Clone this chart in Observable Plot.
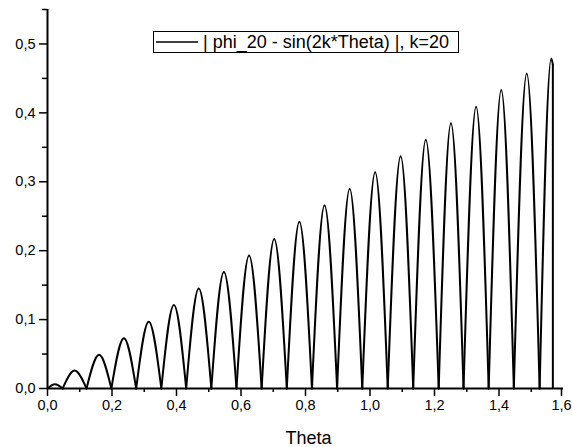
<!DOCTYPE html>
<html>
<head>
<meta charset="utf-8">
<script src="https://cdn.jsdelivr.net/npm/d3@7"></script>
<script src="https://cdn.jsdelivr.net/npm/@observablehq/plot@0.6"></script>
<style>
  html, body { margin: 0; padding: 0; background: #fff; }
  #wrap { position: relative; width: 572px; height: 447px; font-family: "Liberation Sans", Arial, sans-serif; }
  #legend { position: absolute; left: 153px; top: 31px; width: 304px; height: 20px; border: 1px solid #000; background: #fff; box-sizing: content-box; display: flex; align-items: center; font-size: 18px; white-space: nowrap; }
  #legend svg { display: block; margin-left: 2px; margin-right: 5px; }
</style>
</head>
<body>
<div id="wrap"><div id="legend"><svg width="42" height="4"><line x1="0" x2="42" y1="2" y2="2" stroke="#000" stroke-width="1.5"/></svg><span>| phi_20 - sin(2k*Theta) |, k=20</span></div></div>
<script>
// Zero crossings (Theta)
const zeros = [0, 0.047, 0.121, 0.198, 0.275, 0.353, 0.430, 0.508, 0.586, 0.664, 0.742,
  0.820, 0.898, 0.976, 1.055, 1.134, 1.213, 1.290, 1.368, 1.446, 1.526];
// Peak positions and heights of each hump
const peakTheta = [0.023, 0.084, 0.160, 0.237, 0.314, 0.392, 0.469, 0.547, 0.625, 0.703, 0.781,
  0.859, 0.937, 1.016, 1.095, 1.173, 1.251, 1.329, 1.407, 1.486, 1.562];
const peakValue = [0.006, 0.026, 0.049, 0.073, 0.097, 0.121, 0.145, 0.169, 0.193, 0.217, 0.242,
  0.266, 0.290, 0.314, 0.337, 0.361, 0.385, 0.409, 0.433, 0.457, 0.479];
// End of the last (cut-off) hump
const endTheta = 1.567;
const endValue = 0.470;

const xTicks = [0, 0.2, 0.4, 0.6, 0.8, 1.0, 1.2, 1.4];
const xLastTick = [1.6];
const xMinor = [0.1, 0.3, 0.5, 0.7, 0.9, 1.1, 1.3, 1.5];
const yTicks = [0, 0.1, 0.2, 0.3, 0.4, 0.5];
const yMinor = [0.05, 0.15, 0.25, 0.35, 0.45, 0.55];

const pts = [];
for (let i = 0; i < peakTheta.length; i++) {
  pts.push({hump: i, x: zeros[i], y: 0});
  pts.push({hump: i, x: peakTheta[i], y: peakValue[i]});
  if (i + 1 < zeros.length) pts.push({hump: i, x: zeros[i + 1], y: 0});
  else pts.push({hump: i, x: endTheta, y: endValue});
}

const fmt = d => d3.format(".1f")(d).replace(".", ",");

const chart = Plot.plot({
  width: 572,
  height: 447,
  marginLeft: 47,
  marginRight: 9,
  marginTop: 9,
  marginBottom: 59,
  style: {fontFamily: "Liberation Sans, Arial, sans-serif", background: "#fff", color: "#000"},
  x: {domain: [0, 1.6]},
  y: {domain: [0, 0.55]},
  marks: [
    Plot.line(pts, {x: "x", y: "y", z: "hump", curve: "monotone-x", stroke: "#000", strokeWidth: 2}),
    Plot.ruleX([endTheta], {y1: 0, y2: endValue, stroke: "#000", strokeWidth: 2}),
    Plot.axisX({ticks: xTicks, tickSize: 8, tickPadding: 3, tickFormat: fmt, fontSize: 14.5, strokeWidth: 1.5, label: null}),
    Plot.axisX({ticks: xLastTick, tickSize: 8, tickPadding: 3, tickFormat: fmt, fontSize: 14.5, strokeWidth: 1.5, label: null, dx: -2}),
    Plot.axisX({ticks: xMinor, tickSize: 4, tickFormat: null, text: null, strokeWidth: 1.5, label: null}),
    Plot.axisY({ticks: yTicks, tickSize: 8, tickPadding: 4, tickFormat: fmt, fontSize: 14.5, strokeWidth: 1.5, label: null}),
    Plot.axisY({ticks: yMinor, tickSize: 5, tickFormat: null, text: null, strokeWidth: 1.5, label: null}),
    Plot.ruleY([0], {x1: 0, x2: 1.6, stroke: "#000", strokeWidth: 2}),
    Plot.ruleX([0], {y1: 0, y2: 0.55, stroke: "#000", strokeWidth: 2}),
    Plot.text(["Theta"], {frameAnchor: "bottom", dy: 55, dx: 3, lineAnchor: "bottom", fontSize: 18, fill: "#000"})
  ]
});
document.getElementById("wrap").prepend(chart);
chart.style.position = "absolute";
chart.style.left = "0";
chart.style.top = "0";
</script>
</body>
</html>
